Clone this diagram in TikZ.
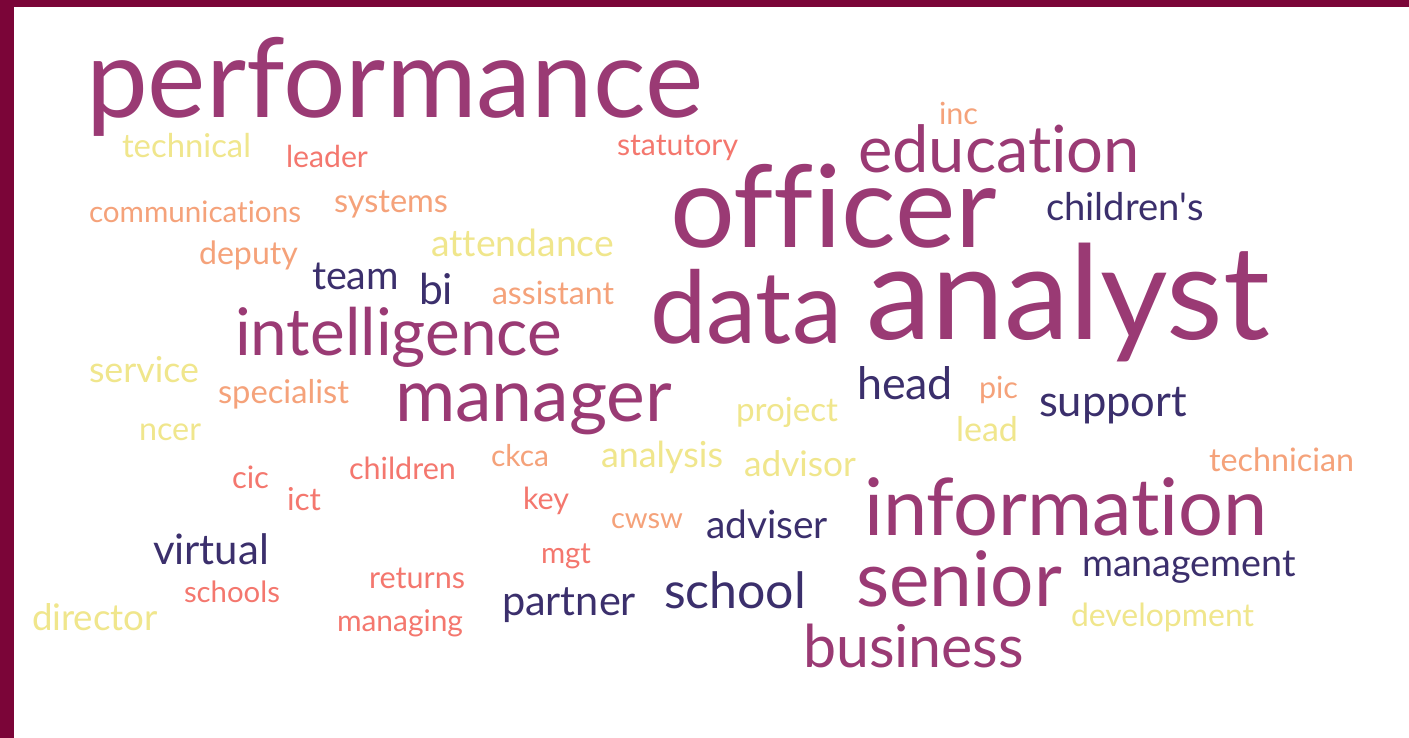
\documentclass[tikz,border=0pt]{standalone}
\usepackage{fontspec}
\setmainfont{Lato}[Ligatures={NoCommon,NoContextual}]
\usepackage{graphicx}
\definecolor{cmag}{HTML}{9A3A74}
\definecolor{cnavy}{HTML}{3B2F6C}
\definecolor{csal}{HTML}{F4776E}
\definecolor{corg}{HTML}{F5A27A}
\definecolor{cyel}{HTML}{F0E68C}
\definecolor{cframe}{HTML}{7B0538}
\newcommand{\wcw}[2]{\resizebox{#1pt}{!}{\fontsize{50}{60}\selectfont #2}}
\tikzset{
  word/.style={inner sep=0pt, outer sep=0pt, anchor=base west},
  wmag/.style={word, text=cmag},
  wnavy/.style={word, text=cnavy, yshift=-3pt},
  wsal/.style={word, text=csal, yshift=-3pt},
  worg/.style={word, text=corg, yshift=-3pt},
  wyel/.style={word, text=cyel, yshift=-3pt},
}
\begin{document}
\begin{tikzpicture}[x=1pt,y=-1pt]
\useasboundingbox (0,0) rectangle (1409,738);
\fill[white] (0,0) rectangle (1409,738);
\fill[cframe] (0,0) rectangle (14,738);
\fill[cframe] (0,0) rectangle (1409,7);
% big words
\node[wmag] (performance) at (86,118) {\wcw{617}{performance}};
\node[wmag] (officer) at (670,248) {\wcw{327}{officer}};
\node[wmag] (education) at (858,173) {\wcw{282}{education}};
\node[wmag] (data) at (650,343) {\wcw{192}{data}};
\node[wmag] (analyst) at (866,339) {\wcw{404}{analyst}};
\node[wmag] (intelligence) at (235,355) {\wcw{327}{intelligence}};
\node[wmag] (manager) at (395,421) {\wcw{277}{manager}};
\node[wmag] (information) at (864,535) {\wcw{404}{information}};
\node[wmag] (senior) at (856,606) {\wcw{206}{senior}};
\node[wmag] (business) at (803,667) {\wcw{221}{business}};
% navy
\node[wnavy] (childrens) at (1046,218) {\wcw{158}{children\textquotesingle s}};
\node[wnavy] (team) at (312,287) {\wcw{87}{team}};
\node[wnavy] (bi) at (419,302) {\wcw{34}{bi}};
\node[wnavy] (head) at (857,396) {\wcw{96}{head}};
\node[wnavy] (support) at (1039,413) {\wcw{148}{support}};
\node[wnavy] (adviser) at (706,535) {\wcw{122}{adviser}};
\node[wnavy] (virtual) at (153,561) {\wcw{116}{virtual}};
\node[wnavy] (management) at (1082,573) {\wcw{214}{management}};
\node[wnavy] (partner) at (502,612) {\wcw{134}{partner}};
\node[wnavy] (school) at (664,605) {\wcw{142}{school}};
% salmon
\node[wsal] (leader) at (286,165) {\wcw{82}{leader}};
\node[wsal] (statutory) at (617,153) {\wcw{121}{statutory}};
\node[wsal] (children) at (349,476) {\wcw{107}{children}};
\node[wsal] (cic) at (232,485) {\wcw{37}{cic}};
\node[wsal] (ict) at (287,507) {\wcw{34}{ict}};
\node[wsal] (key) at (523,506) {\wcw{46}{key}};
\node[wsal] (mgt) at (541,560) {\wcw{50}{mgt}};
\node[wsal] (returns) at (369,585) {\wcw{96}{returns}};
\node[wsal] (schools) at (184,599) {\wcw{96}{schools}};
\node[wsal] (managing) at (337,628) {\wcw{126}{managing}};
% orange
\node[worg] (inc) at (939,122) {\wcw{39}{inc}};
\node[worg] (communications) at (89,220) {\wcw{212}{communications}};
\node[worg] (systems) at (334,210) {\wcw{114}{systems}};
\node[worg] (deputy) at (199,262) {\wcw{99}{deputy}};
\node[worg] (assistant) at (492,302) {\wcw{122}{assistant}};
\node[worg] (specialist) at (218,400) {\wcw{131}{specialist}};
\node[worg] (pic) at (979,395) {\wcw{39}{pic}};
\node[worg] (technician) at (1209,468) {\wcw{145}{technician}};
\node[worg] (ckca) at (491,463) {\wcw{58}{ckca}};
\node[worg] (cwsw) at (611,525) {\wcw{72}{cwsw}};
% yellow
\node[wyel] (technical) at (122,155) {\wcw{129}{technical}};
\node[wyel] (attendance) at (431,253) {\wcw{183}{attendance}};
\node[wyel] (service) at (89,379) {\wcw{110}{service}};
\node[wyel] (ncer) at (139,437) {\wcw{62}{ncer}};
\node[wyel] (lead) at (956,438) {\wcw{62}{lead}};
\node[wyel] (project) at (736,418) {\wcw{102}{project}};
\node[wyel] (analysis) at (601,464) {\wcw{122}{analysis}};
\node[wyel] (advisor) at (744,473) {\wcw{112}{advisor}};
\node[wyel] (director) at (32,627) {\wcw{126}{director}};
\node[wyel] (development) at (1071,623) {\wcw{183}{development}};
\end{tikzpicture}
\end{document}
